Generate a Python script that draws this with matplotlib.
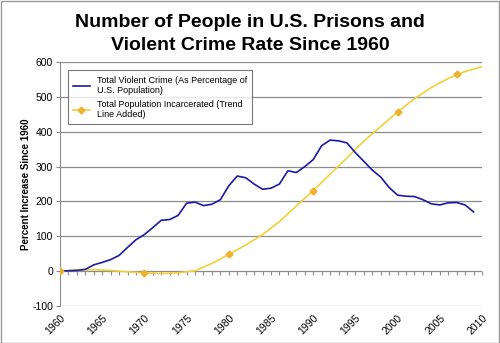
import numpy as np
import matplotlib
matplotlib.use("Agg")
import matplotlib.pyplot as plt

plt.rcParams['font.family'] = ['Liberation Sans', 'DejaVu Sans']
plt.rcParams['axes.unicode_minus'] = False

# Violent crime, percent increase since 1960 (yearly, 1960-2009)
crime_years = list(range(1960, 2010))
crime = [0, 1, 2, 5, 18, 25, 33, 45, 68, 90,
         105, 125, 146, 148, 160, 195, 198, 188, 192, 205,
         245, 273, 268, 250, 235, 238, 250, 288, 283, 300,
         320, 360, 376, 374, 368, 340, 315, 290, 270, 240,
         218, 215, 214, 205, 193, 190, 196, 197, 190, 170]

# Incarceration trend line
trend_years = [1960, 1962, 1964, 1966, 1968, 1970, 1972, 1974, 1976, 1978,
               1980, 1982, 1984, 1986, 1988, 1990, 1992, 1994, 1996, 1998,
               2000, 2002, 2004, 2006, 2008, 2010]
trend = [0, 4, 4, 2, -2, -5, -7, -5, 1, 22,
         48, 75, 105, 142, 187, 231, 278, 325, 373, 415,
         457, 495, 527, 553, 573, 587]

# Incarceration data points (markers)
prison_years = [1960, 1970, 1980, 1990, 2000, 2007]
prison = [0, -5, 48, 231, 457, 565]

fig = plt.figure(figsize=(5, 3.43), dpi=100)
ax = fig.add_axes([0.12, 0.108, 0.844, 0.711])

grid_c = '#8c8c8c'
for v in range(-100, 700, 100):
    if v != 0:
        ax.axhline(v, color=grid_c, lw=0.9, zorder=0)
ax.axhline(0, color=grid_c, lw=0.9, zorder=1)

ax.plot(crime_years, crime, color='#1a1aa6', lw=1.2, zorder=3,
        label='Total Violent Crime (As Percentage of\nU.S. Population)')
ax.plot(trend_years, trend, color='#f2d03a', lw=1.2, zorder=2)
ax.plot(prison_years, prison, ls='none', marker='D', ms=3.5, color='#f0b030',
        zorder=4)
# legend proxy: line + marker
ax.plot([], [], color='#f2d03a', lw=1.2, marker='D', ms=3.5, mfc='#f0b030',
        mec='#f0b030', label='Total Population Incarcerated (Trend\nLine Added)')

ax.set_xlim(1960, 2010)
ax.set_ylim(-100, 600)
ax.set_yticks(range(-100, 700, 100))
ax.set_xticks(range(1960, 2011, 5))
ax.tick_params(axis='x', length=0, labelsize=7.5, pad=5)
ax.tick_params(axis='y', length=3, color=grid_c, labelsize=7.5, pad=2)
for lab in ax.get_xticklabels():
    lab.set_rotation(45)
    lab.set_ha('right')
    lab.set_va('top')
    lab.set_rotation_mode('anchor')

for s in ['top', 'right', 'bottom']:
    ax.spines[s].set_visible(False)
ax.spines['left'].set_color(grid_c)

# year tick marks along the zero line
sec = ax.secondary_xaxis(100 / 700)
sec.set_xticks(range(1960, 2011))
sec.tick_params(axis='x', direction='out', length=3, color=grid_c, labelbottom=False)
sec.spines['bottom'].set_visible(False)

ax.set_ylabel('Percent Increase Since 1960', fontsize=7, fontweight='bold', labelpad=1)

leg = ax.legend(loc='upper left', bbox_to_anchor=(0.008, 0.985), fontsize=6.5,
                frameon=True, fancybox=False, edgecolor='#555555',
                handlelength=1.8, borderpad=0.6, labelspacing=0.5)
leg.get_frame().set_linewidth(0.8)

fig.text(0.5, 0.958, 'Number of People in U.S. Prisons and\nViolent Crime Rate Since 1960',
         ha='center', va='top', fontsize=14, fontweight='bold', linespacing=1.45)

fig.patches.append(plt.Rectangle((0.001, 0.001), 0.997, 0.997, transform=fig.transFigure,
                                 fill=False, edgecolor='#999999', lw=1))

fig.savefig('out.png', dpi=100)
